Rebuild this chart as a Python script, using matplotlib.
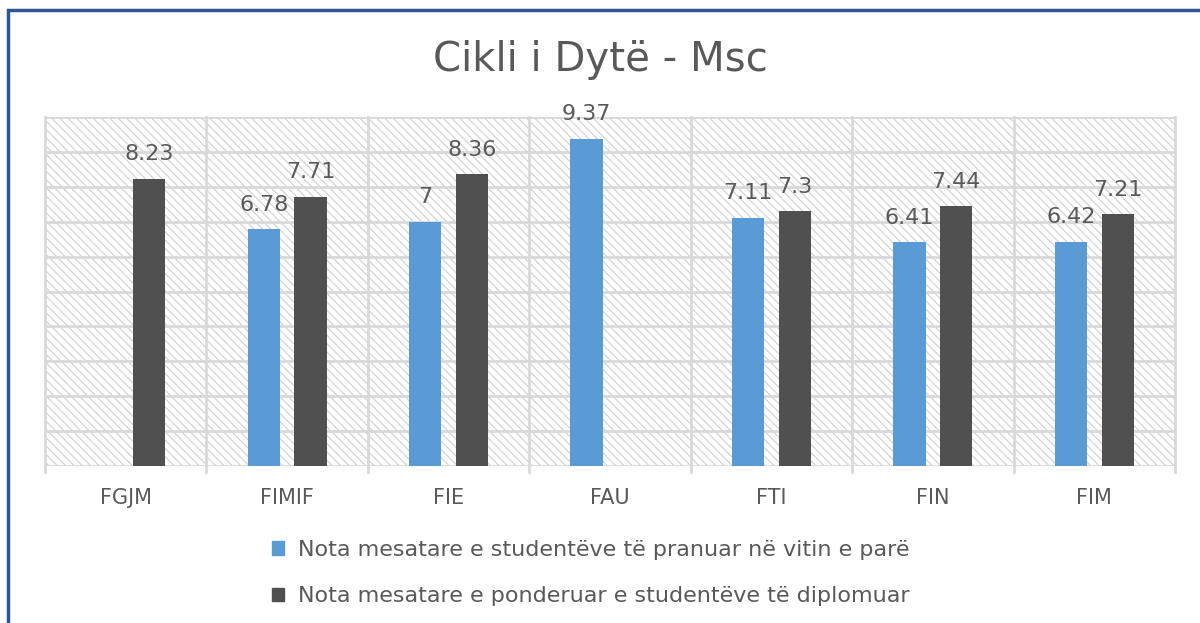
import matplotlib.pyplot as plt
import numpy as np
from matplotlib.patches import Rectangle

categories = ["FGJM", "FIMIF", "FIE", "FAU", "FTI", "FIN", "FIM"]
pranuar = [None, 6.78, 7, 9.37, 7.11, 6.41, 6.42]
diplomuar = [8.23, 7.71, 8.36, None, 7.3, 7.44, 7.21]
series_names = [
    "Nota mesatare e studentëve të pranuar në vitin e parë",
    "Nota mesatare e ponderuar e studentëve të diplomuar",
]

blue = "#5B9BD5"
dark = "#505050"
grid_c = "#D9D9D9"
text_c = "#595959"

plt.rcParams["hatch.color"] = "#D0D0D0"
plt.rcParams["hatch.linewidth"] = 0.8

fig = plt.figure(figsize=(12, 6.23), dpi=100)
ax = fig.add_axes([45 / 1200, 1 - 466 / 623, 1130 / 1200, 349 / 623])

# blue frame around the chart
fig.patches.append(Rectangle((8 / 1200, -0.05), 1.2, 1 - 10 / 623 + 0.05,
                             transform=fig.transFigure, fill=False,
                             edgecolor="#2F5597", linewidth=2.5))

x = np.arange(len(categories))
w = 0.2
off = 0.145

# hatched plot background
ax.add_patch(Rectangle((-0.5, 0), len(categories), 10, facecolor="white",
                       edgecolor="#D0D0D0", hatch="\\\\\\\\", linewidth=0, zorder=0))

for i in range(len(categories)):
    if pranuar[i] is not None:
        ax.bar(x[i] - off, pranuar[i], w, color=blue, zorder=3)
        ax.text(x[i] - off, pranuar[i] + 0.42, f"{pranuar[i]:g}", ha="center",
                va="bottom", fontsize=16, color=text_c, zorder=4)
    if diplomuar[i] is not None:
        ax.bar(x[i] + off, diplomuar[i], w, color=dark, zorder=3)
        ax.text(x[i] + off, diplomuar[i] + 0.42, f"{diplomuar[i]:g}", ha="center",
                va="bottom", fontsize=16, color=text_c, zorder=4)

ax.set_xlim(-0.5, len(categories) - 0.5)
ax.set_ylim(0, 10)
for y in range(1, 11):
    ax.axhline(y, color=grid_c, linewidth=2, zorder=1)
for b in np.arange(-0.5, len(categories), 1):
    ax.plot([b, b], [-0.18, 10], color=grid_c, linewidth=2, zorder=1, clip_on=False)
ax.axhline(0, color=grid_c, linewidth=2, zorder=2)

for s in ax.spines.values():
    s.set_visible(False)
ax.set_yticks([])
ax.set_xticks(x)
ax.set_xticklabels(categories, fontsize=15, color=text_c)
ax.tick_params(axis="x", length=0, pad=16)

fig.text(0.5, 1 - 60 / 623, "Cikli i Dytë - Msc", ha="center", va="center",
         fontsize=29, color=text_c)

handles = [Rectangle((0, 0), 1, 1, color=blue), Rectangle((0, 0), 1, 1, color=dark)]
leg = fig.legend(handles, series_names, loc="center left",
                 bbox_to_anchor=(252 / 1200, 1 - 573 / 623), frameon=False,
                 fontsize=16, handlelength=0.55, handleheight=0.55,
                 handletextpad=0.6, labelspacing=1.2)
for t in leg.get_texts():
    t.set_color(text_c)

fig.savefig("out.png", dpi=100)
